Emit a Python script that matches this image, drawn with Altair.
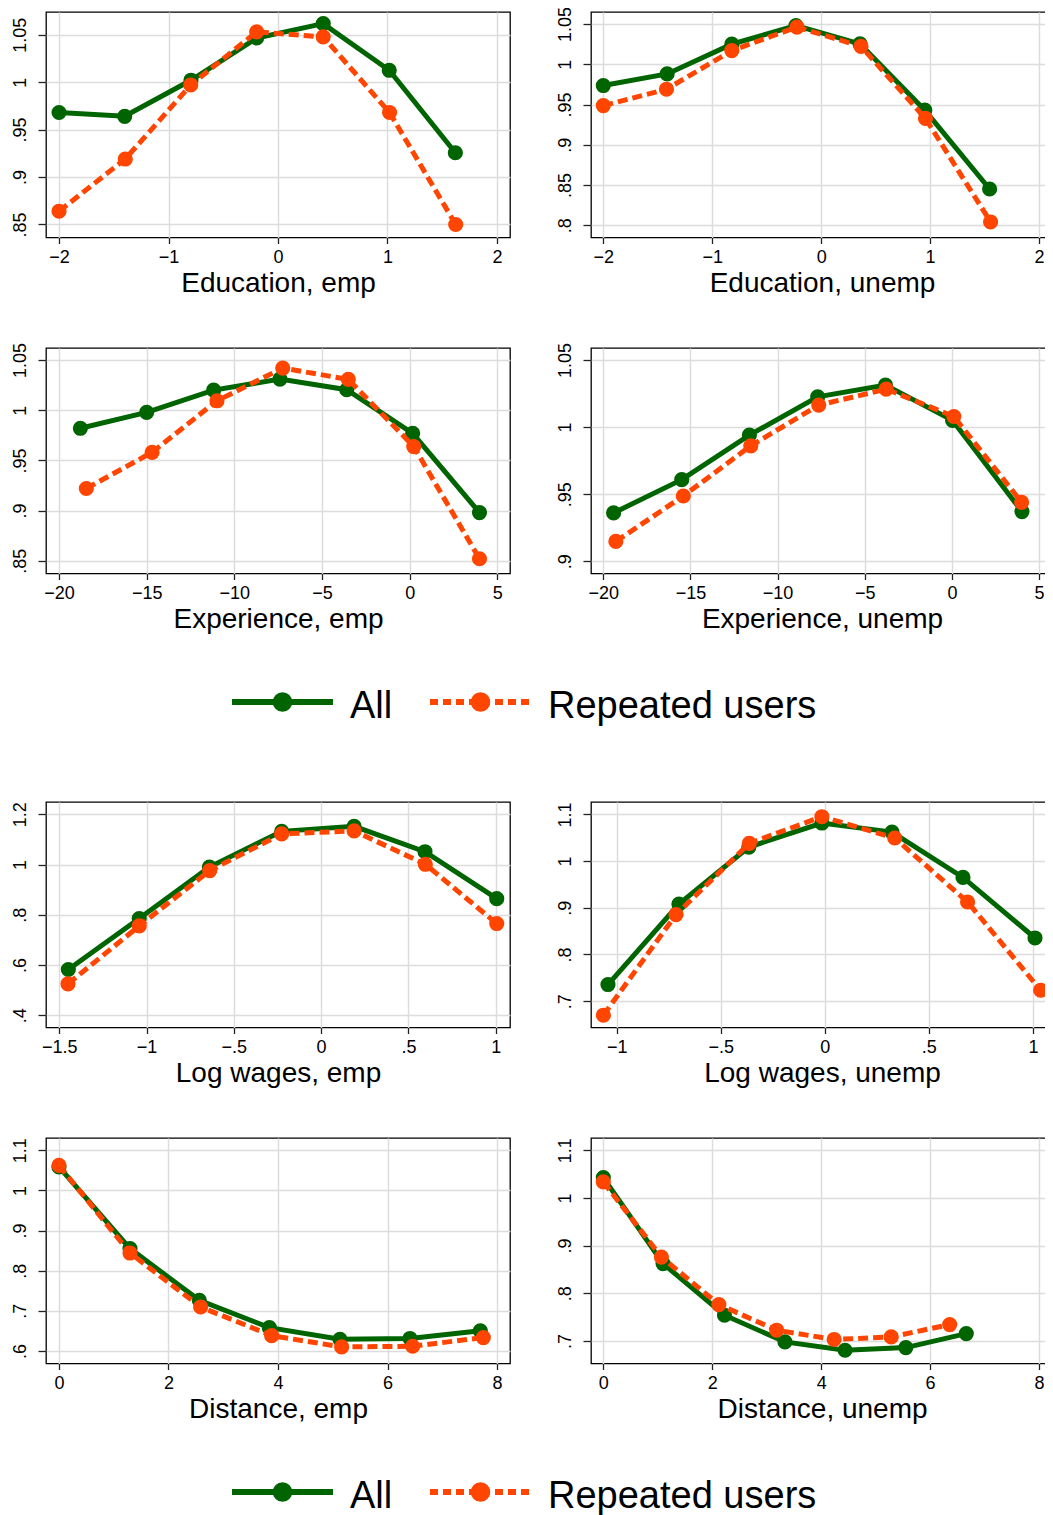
import altair as alt
import pandas as pd

# ---------------- data ----------------
SERIES = ["All", "Repeated users"]

EDU_EMP_ALL_X = [-2.0, -1.40, -0.795, -0.195, 0.413, 1.016, 1.62]
EDU_EMP_ALL_Y = [0.968, 0.964, 1.002, 1.0465, 1.0616, 1.0125, 0.9256]
EDU_EMP_REP_X = [-2.0, -1.395, -0.797, -0.195, 0.413, 1.019, 1.623]
EDU_EMP_REP_Y = [0.864, 0.919, 0.997, 1.053, 1.0477, 0.968, 0.850]

EDU_UNE_ALL_X = [-2.0, -1.414, -0.82, -0.231, 0.357, 0.952, 1.547]
EDU_UNE_ALL_Y = [0.9736, 0.988, 1.025, 1.048, 1.0254, 0.943, 0.845]
EDU_UNE_REP_X = [-2.0, -1.42, -0.82, -0.222, 0.366, 0.958, 1.556]
EDU_UNE_REP_Y = [0.9487, 0.969, 1.017, 1.0463, 1.0222, 0.9327, 0.804]

EXP_EMP_ALL_X = [-18.78, -15.0, -11.18, -7.4, -3.59, 0.17, 3.98]
EXP_EMP_ALL_Y = [0.982, 0.9978, 1.020, 1.031, 1.0204, 0.977, 0.898]
EXP_EMP_REP_X = [-18.44, -14.69, -10.99, -7.24, -3.5, 0.23, 3.98]
EXP_EMP_REP_Y = [0.922, 0.958, 1.0094, 1.042, 1.0307, 0.9638, 0.852]

EXP_UNE_ALL_X = [-19.41, -15.5, -11.62, -7.7, -3.81, 0.04, 4.02]
EXP_UNE_ALL_Y = [0.936, 0.9608, 0.994, 1.0226, 1.0313, 1.005, 0.937]
EXP_UNE_REP_X = [-19.28, -15.41, -11.54, -7.64, -3.77, 0.11, 4.0]
EXP_UNE_REP_Y = [0.9147, 0.9486, 0.986, 1.0164, 1.0283, 1.0079, 0.9439]

WAG_EMP_ALL_X = [-1.448, -1.042, -0.64, -0.226, 0.189, 0.595, 1.006]
WAG_EMP_ALL_Y = [0.582, 0.785, 0.99, 1.132, 1.152, 1.051, 0.864]
WAG_EMP_REP_X = [-1.45, -1.042, -0.638, -0.226, 0.189, 0.597, 1.006]
WAG_EMP_REP_Y = [0.525, 0.7555, 0.976, 1.122, 1.134, 1.001, 0.765]

WAG_UNE_ALL_X = [-1.042, -0.701, -0.365, -0.014, 0.323, 0.664, 1.01]
WAG_UNE_ALL_Y = [0.7357, 0.908, 1.030, 1.0815, 1.062, 0.965, 0.8354]
WAG_UNE_REP_X = [-1.064, -0.715, -0.363, -0.014, 0.336, 0.686, 1.037]
WAG_UNE_REP_Y = [0.670, 0.8855, 1.038, 1.095, 1.0494, 0.9124, 0.7235]

DIS_EMP_ALL_X = [0.0, 1.297, 2.563, 3.842, 5.132, 6.41, 7.695]
DIS_EMP_ALL_Y = [1.0585, 0.855, 0.726, 0.658, 0.629, 0.631, 0.650]
DIS_EMP_REP_X = [0.0, 1.297, 2.587, 3.884, 5.162, 6.459, 7.75]
DIS_EMP_REP_Y = [1.0626, 0.844, 0.7095, 0.638, 0.61, 0.6116, 0.6333]

DIS_UNE_ALL_X = [0.0, 1.097, 2.225, 3.335, 4.439, 5.555, 6.665]
DIS_UNE_ALL_Y = [1.0427, 0.8623, 0.7539, 0.698, 0.6804, 0.686, 0.7154]
DIS_UNE_REP_X = [0.0, 1.067, 2.122, 3.183, 4.238, 5.286, 6.36]
DIS_UNE_REP_Y = [1.0336, 0.876, 0.7763, 0.7224, 0.703, 0.7084, 0.7343]

# axis titles, tick values and axis ranges
TITLES = ["Education, emp", "Education, unemp", "Experience, emp", "Experience, unemp",
          "Log wages, emp", "Log wages, unemp", "Distance, emp", "Distance, unemp"]
X_TICKS = [[-2, -1, 0, 1, 2], [-2, -1, 0, 1, 2],
           [-20, -15, -10, -5, 0, 5], [-20, -15, -10, -5, 0, 5],
           [-1.5, -1, -0.5, 0, 0.5, 1], [-1, -0.5, 0, 0.5, 1],
           [0, 2, 4, 6, 8], [0, 2, 4, 6, 8]]
Y_TICKS = [[0.85, 0.9, 0.95, 1, 1.05], [0.8, 0.85, 0.9, 0.95, 1, 1.05],
           [0.85, 0.9, 0.95, 1, 1.05], [0.9, 0.95, 1, 1.05],
           [0.4, 0.6, 0.8, 1, 1.2], [0.7, 0.8, 0.9, 1, 1.1],
           [0.6, 0.7, 0.8, 0.9, 1, 1.1], [0.7, 0.8, 0.9, 1, 1.1]]
X_DOM = [[-2.119, 2.119], [-2.113, 2.129], [-20.74, 5.72], [-20.706, 5.80],
         [-1.576, 1.082], [-1.1235, 1.0965], [-0.237, 8.237], [-0.226, 8.257]]
Y_DOM = [[0.8363, 1.0739], [0.7847, 1.065], [0.8373, 1.062], [0.8908, 1.059],
         [0.351, 1.249], [0.6437, 1.1265], [0.5686, 1.1307], [0.6526, 1.1258]]

PANEL_DATA = [
    (EDU_EMP_ALL_X, EDU_EMP_ALL_Y, EDU_EMP_REP_X, EDU_EMP_REP_Y),
    (EDU_UNE_ALL_X, EDU_UNE_ALL_Y, EDU_UNE_REP_X, EDU_UNE_REP_Y),
    (EXP_EMP_ALL_X, EXP_EMP_ALL_Y, EXP_EMP_REP_X, EXP_EMP_REP_Y),
    (EXP_UNE_ALL_X, EXP_UNE_ALL_Y, EXP_UNE_REP_X, EXP_UNE_REP_Y),
    (WAG_EMP_ALL_X, WAG_EMP_ALL_Y, WAG_EMP_REP_X, WAG_EMP_REP_Y),
    (WAG_UNE_ALL_X, WAG_UNE_ALL_Y, WAG_UNE_REP_X, WAG_UNE_REP_Y),
    (DIS_EMP_ALL_X, DIS_EMP_ALL_Y, DIS_EMP_REP_X, DIS_EMP_REP_Y),
    (DIS_UNE_ALL_X, DIS_UNE_ALL_Y, DIS_UNE_REP_X, DIS_UNE_REP_Y),
]

# ---------------- style ----------------
FONT = "Liberation Sans"
GREEN = "#006400"
ORANGE = "#FF4500"
STYLES = {"All": (GREEN, None), "Repeated users": (ORANGE, [10, 5])}
PANEL_W = [464, 462]
PANEL_H = 225.5
LBL = "replace(format(datum.value, '~g'), '0.', '.')"


def panel(k):
    ax, ay, rx, ry = PANEL_DATA[k]
    df = pd.DataFrame({
        "x": list(ax) + list(rx),
        "y": list(ay) + list(ry),
        "series": [SERIES[0]] * len(ax) + [SERIES[1]] * len(rx),
    })
    xenc = alt.X("x:Q",
                 scale=alt.Scale(domain=X_DOM[k], nice=False, zero=False),
                 axis=alt.Axis(values=X_TICKS[k], title=TITLES[k], labelExpr=LBL,
                               tickSize=6, labelPadding=5, titlePadding=3))
    yenc = alt.Y("y:Q",
                 scale=alt.Scale(domain=Y_DOM[k], nice=False, zero=False),
                 axis=alt.Axis(values=Y_TICKS[k], title=None, labelExpr=LBL,
                               labelAngle=270, labelAlign="center", labelBaseline="bottom",
                               tickSize=8, labelPadding=9))
    layers = []
    for s in SERIES:
        col, dash = STYLES[s]
        base = alt.Chart(df).transform_filter(alt.datum.series == s)
        if dash:
            line = base.mark_line(color=col, strokeWidth=5, strokeDash=dash)
        else:
            line = base.mark_line(color=col, strokeWidth=5)
        layers.append(line.encode(x=xenc, y=yenc))
        layers.append(base.mark_circle(color=col, size=230, opacity=1).encode(x=xenc, y=yenc))
    return alt.layer(*layers).properties(
        width=PANEL_W[k % 2], height=PANEL_H,
        view=alt.ViewBackground(stroke="black", strokeWidth=1.3),
    )


# legend layout (pixels inside the legend cell)
LEG_X0 = 186
LEG_STEP = 198
LEG_LINE = 101
LEG_TEXT_GAP = 118
LEG_Y = 18


def legend_cell():
    df = pd.DataFrame({"series": SERIES, "slot": list(range(len(SERIES)))})
    base = alt.Chart(df).transform_calculate(
        x0=f"{LEG_X0} + datum.slot * {LEG_STEP}",
        x1=f"{LEG_X0} + datum.slot * {LEG_STEP} + {LEG_LINE}",
        xm=f"{LEG_X0} + datum.slot * {LEG_STEP} + {LEG_LINE / 2}",
        xt=f"{LEG_X0} + datum.slot * {LEG_STEP} + {LEG_TEXT_GAP}",
    )
    layers = []
    for s in SERIES:
        col, dash = STYLES[s]
        b = base.transform_filter(alt.datum.series == s)
        if dash:
            rule = b.mark_rule(color=col, strokeWidth=6, strokeDash=[8, 5])
        else:
            rule = b.mark_rule(color=col, strokeWidth=6)
        layers.append(rule.encode(x=alt.X("x0:Q", scale=None), x2="x1:Q", y=alt.value(LEG_Y)))
        layers.append(b.mark_circle(color=col, size=380, opacity=1).encode(
            x=alt.X("xm:Q", scale=None), y=alt.value(LEG_Y)))
        layers.append(b.mark_text(align="left", baseline="alphabetic", dy=16, fontSize=38,
                                  font=FONT, color="black").encode(
            x=alt.X("xt:Q", scale=None), y=alt.value(LEG_Y), text="series:N"))
    return alt.layer(*layers).properties(
        width=PANEL_W[0], height=8,
        view=alt.ViewBackground(stroke="transparent"),
    )


def filler():
    df = pd.DataFrame({"series": SERIES[:1]})
    return alt.Chart(df).mark_point(opacity=0).encode(
        x=alt.value(0), y=alt.value(0)
    ).properties(width=PANEL_W[1], height=8, view=alt.ViewBackground(stroke="transparent"))


cells = [panel(0), panel(1), panel(2), panel(3), legend_cell(), filler(),
         panel(4), panel(5), panel(6), panel(7), legend_cell(), filler()]

chart = alt.concat(
    *cells, columns=2, spacing={"row": 110, "column": 81}, bounds="flush"
).properties(
    # the right-hand panels run to the page edge; the extra width is cut off as in the original
    padding={"left": 2, "top": -3, "right": -9, "bottom": 0}
).configure_axis(
    labelFont=FONT, titleFont=FONT, labelFontSize=18, titleFontSize=28,
    titleFontWeight="normal", labelColor="black", titleColor="black",
    gridColor="#dcdcdc", gridWidth=1.5, domain=False,
    tickColor="#222222", tickWidth=1.3, labelOverlap=False, labelFlush=False,
    labelBound=False,
).configure_view(
    stroke="black"
)

chart.save("out.html", embed_options={"renderer": "svg", "actions": False})
